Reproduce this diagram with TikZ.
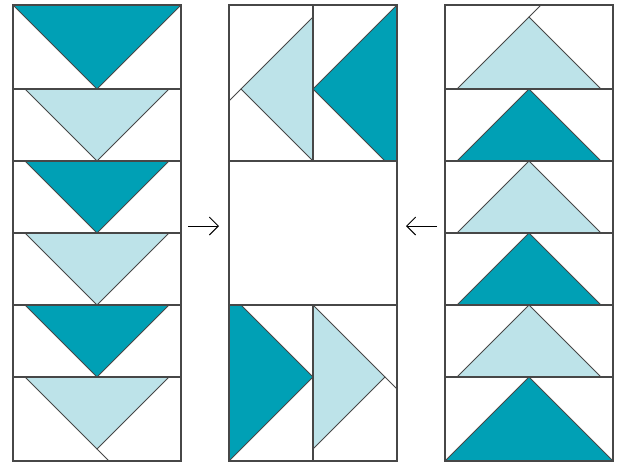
\documentclass[tikz,border=0pt]{standalone}
\usepackage{tikz}
\usetikzlibrary{arrows.meta}

\definecolor{geesedark}{HTML}{00A0B5}
\definecolor{geeselight}{HTML}{BDE3E9}
\definecolor{seam}{HTML}{474747}

\begin{document}
\begin{tikzpicture}[
    x=1pt, y=-1pt,
    dark/.style={fill=geesedark, draw=seam, line width=0.8pt},
    light/.style={fill=geeselight, draw=seam, line width=0.8pt},
    seamline/.style={draw=seam, line width=1.2pt},
    cutline/.style={draw=seam, line width=0.8pt},
    arrow/.style={line width=0.9pt, -{Straight Barb[length=9pt,width=18pt]}}
]
\useasboundingbox (0,0) rectangle (621,464);

% left strip: geese pointing down
\path[dark] (13,5) -- (181,5) -- (97,89) -- cycle;
\foreach \ytop/\shade in {89/light,161/dark,233/light,305/dark}
  \path[\shade] (25,\ytop) -- (169,\ytop) -- (97,\ytop+72) -- cycle;
\path[light] (25,377) -- (169,377) -- (97,449) -- cycle;
\draw[cutline] (97,449) -- (109,461);
\foreach \y in {89,161,233,305,377}
  \draw[seamline] (13,\y) -- (181,\y);
\draw[seamline] (13,5) rectangle (181,461);

% centre block
\path[light] (313,17) -- (241,89) -- (313,161) -- cycle;
\draw[cutline] (241,89) -- (229,101);
\path[dark] (397,5) -- (313,89) -- (385,161) -- (397,161) -- cycle;
\path[dark] (229,305) -- (241,305) -- (313,377) -- (229,461) -- cycle;
\path[light] (313,305) -- (385,377) -- (313,449) -- cycle;
\draw[cutline] (385,377) -- (397,389);
\draw[seamline] (229,161) -- (397,161) (229,305) -- (397,305);
\draw[seamline] (313,5) -- (313,161) (313,305) -- (313,461);
\draw[seamline] (229,5) rectangle (397,461);

% right strip: geese pointing up
\path[light] (457,89) -- (601,89) -- (529,17) -- cycle;
\draw[cutline] (529,17) -- (541,5);
\foreach \ybase/\shade in {161/dark,233/light,305/dark,377/light}
  \path[\shade] (457,\ybase) -- (601,\ybase) -- (529,\ybase-72) -- cycle;
\path[dark] (445,461) -- (613,461) -- (529,377) -- cycle;
\foreach \y in {89,161,233,305,377}
  \draw[seamline] (445,\y) -- (613,\y);
\draw[seamline] (445,5) rectangle (613,461);

% arrows
\coordinate (lefttail) at (188,226);
\coordinate (lefthead) at (219,226);
\coordinate (righttail) at (437,226);
\coordinate (righthead) at (406,226);
\draw[arrow] (lefttail) -- (lefthead);
\draw[arrow] (righttail) -- (righthead);
\end{tikzpicture}
\end{document}
